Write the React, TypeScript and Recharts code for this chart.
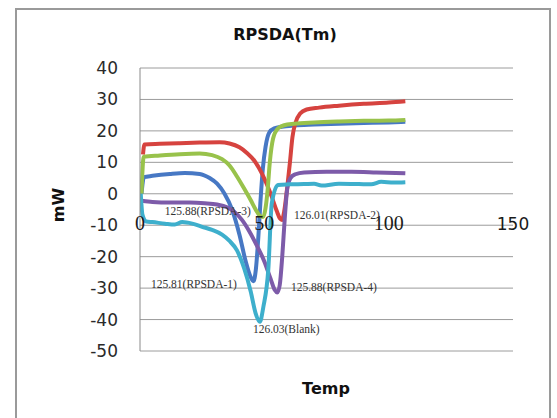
import React from 'react';
import { LineChart, Line, XAxis, YAxis, CartesianGrid, ReferenceDot } from 'recharts';

// ---- data ----
const rpsda1Temp = [0.6, 1.6, 5, 12, 18, 24, 28, 31, 34, 37, 40, 42.5, 44.5, 45.6, 46.6, 47.6, 48.4, 49.4, 50.5, 52, 54, 57, 62, 70, 80, 90, 100, 106.7];
const rpsda1MW = [0, 5.3, 5.7, 6.3, 6.6, 6.3, 5, 3.2, 0, -5, -13, -21.5, -26.5, -27.8, -24, -13.6, -3, 8, 15, 19.5, 20.8, 21.3, 21.7, 22, 22.3, 22.5, 22.7, 22.9];

const rpsda2Temp = [1.2, 1.8, 8, 16, 24, 32, 36, 40, 43, 46, 49, 51, 53, 55, 56.3, 57.1, 58, 59.2, 60.3, 61.3, 62.5, 64.4, 67, 72, 80, 90, 100, 106.7];
const rpsda2MW = [12.5, 15.7, 15.9, 16.1, 16.3, 16.4, 16, 14.8, 13, 10.5, 6.5, 3, -1, -5.5, -7.9, -8.3, -5.5, 2, 10, 18, 22.5, 25.5, 26.8, 27.4, 28, 28.6, 29, 29.4];

const rpsda3Temp = [0.6, 1.5, 8, 16, 24, 29, 33, 36, 39, 42, 44.5, 46.5, 48.2, 49.5, 50.5, 51.3, 52.2, 53.5, 55.5, 58, 62, 70, 80, 90, 100, 106.7];
const rpsda3MW = [0, 11.8, 12.2, 12.6, 12.8, 12.3, 11, 9, 5.5, 1.5, -2, -5, -7, -7.4, -4.5, 1, 10, 17.5, 20.8, 21.8, 22.3, 22.7, 23, 23.2, 23.3, 23.5];

const rpsda4Temp = [0.8, 5, 12, 20, 26, 31, 35, 38, 41, 44, 47, 50, 52.5, 54.2, 55.2, 56.2, 57.2, 58.2, 59.2, 60.5, 62.5, 66, 75, 85, 95, 106.7];
const rpsda4MW = [-2.2, -2.6, -2.8, -2.8, -3, -3.4, -4.3, -5.8, -8.3, -12, -16.5, -21.5, -27, -30.6, -31.4, -29, -20, -8, 1.5, 5, 6.2, 6.8, 7, 7, 6.8, 6.5];

const blankTemp = [0.3, 1, 2.5, 5, 10, 14, 17, 21, 25, 29, 33, 36, 39, 42, 44.5, 46.5, 48.2, 49.6, 51.6, 53, 55.5, 60, 66, 70, 73, 80, 88, 93, 97, 102, 106.7];
const blankMW = [0, -6.7, -8.8, -9, -9.5, -9.8, -9, -9.5, -10.5, -11.5, -13, -15, -18, -24, -31, -38, -40.7, -36, -24, -3, 2.8, 3, 3.1, 3.2, 2.6, 3.2, 3.1, 3.0, 3.8, 3.6, 3.7];

const xTicks = [0, 50, 100, 150];
const yTicks = [-50, -40, -30, -20, -10, 0, 10, 20, 30, 40];

const peakLabels = ['125.88(RPSDA-3)', '126.01(RPSDA-2)', '125.81(RPSDA-1)', '125.88(RPSDA-4)', '126.03(Blank)'];
const peakLabelTemp = [10.0, 61.9, 4.4, 60.7, 45.4];
const peakLabelMW = [-5.5, -6.7, -28.7, -29.6, -43.0];

// ---- layout / style ----
const W = 557;
const H = 418;
const TOP = 68;
const X_AXIS_H = 67;
const PLOT_H = H - TOP - X_AXIS_H;
const Y_MIN = -50;
const Y_MAX = 40;
const SANS = 'DejaVu Sans, sans-serif';
const SERIF = 'Liberation Serif, Times New Roman, serif';

const toPoints = (t: number[], v: number[]) => t.map((x, i) => ({ temp: x, mw: v[i] }));

const series = [
  { name: 'RPSDA-1', data: toPoints(rpsda1Temp, rpsda1MW), color: '#4778C4' },
  { name: 'RPSDA-2', data: toPoints(rpsda2Temp, rpsda2MW), color: '#D6433F' },
  { name: 'RPSDA-3', data: toPoints(rpsda3Temp, rpsda3MW), color: '#98C24B' },
  { name: 'RPSDA-4', data: toPoints(rpsda4Temp, rpsda4MW), color: '#7D5BA9' },
  { name: 'Blank', data: toPoints(blankTemp, blankMW), color: '#3EAFCC' },
];

const XTick = (props: any) => {
  const { x, y, payload } = props;
  const zeroY = y - (PLOT_H * (0 - Y_MIN)) / (Y_MAX - Y_MIN);
  const isSerif = payload.value !== 150;
  return (
    <text
      x={x}
      y={zeroY + 36.5}
      textAnchor="middle"
      fill="#1a1a1a"
      fontFamily={isSerif ? SERIF : SANS}
      fontSize={isSerif ? 20 : 17}
    >
      {payload.value}
    </text>
  );
};

export default function App() {
  return (
    <div style={{ position: 'fixed', left: 0, top: 0, width: W, height: H, overflow: 'hidden', background: '#fff' }}>
      <div
        style={{
          position: 'absolute',
          left: 15,
          top: 8,
          width: 536,
          height: 430,
          border: '2px solid #9a9a9a',
          boxSizing: 'border-box',
        }}
      />
      <div
        style={{
          position: 'absolute',
          left: 185,
          top: 25,
          width: 200,
          lineHeight: '20px',
          textAlign: 'center',
          fontFamily: SANS,
          fontWeight: 'bold',
          fontSize: 16,
          color: '#111',
        }}
      >
        RPSDA(Tm)
      </div>
      <div style={{ position: 'absolute', left: 0, top: 0 }}>
        <LineChart width={W} height={H} margin={{ top: TOP, right: 44, bottom: 0, left: 0 }}>
          <CartesianGrid vertical={false} stroke="#9c9c9c" />
          <XAxis
            dataKey="temp"
            type="number"
            domain={[0, 150]}
            ticks={xTicks}
            height={X_AXIS_H}
            axisLine={false}
            tickLine={false}
            tickSize={0}
            tickMargin={0}
            tick={<XTick />}
            interval={0}
            allowDataOverflow
          />
          <YAxis
            type="number"
            domain={[Y_MIN, Y_MAX]}
            ticks={yTicks}
            width={140}
            axisLine={{ stroke: '#8a8a8a' }}
            tickLine={false}
            tickSize={0}
            tickMargin={22}
            interval={0}
            tick={{ fill: '#2a2a2a', fontSize: 17, fontFamily: SANS }}
          />
          {series.map((s) => (
            <Line
              key={s.name}
              data={s.data}
              dataKey="mw"
              name={s.name}
              type="monotone"
              stroke={s.color}
              strokeWidth={4}
              dot={false}
              activeDot={false}
              isAnimationActive={false}
            />
          ))}
          {peakLabels.map((lbl, i) => (
            <ReferenceDot
              key={lbl}
              x={peakLabelTemp[i]}
              y={peakLabelMW[i]}
              r={0}
              fill="none"
              stroke="none"
              ifOverflow="visible"
              label={{
                value: lbl,
                position: 'right',
                offset: 0,
                fill: '#333',
                fontSize: 11.5,
                fontFamily: SERIF,
              }}
            />
          ))}
        </LineChart>
      </div>
      <div
        style={{
          position: 'absolute',
          left: 29,
          top: 195,
          width: 60,
          height: 20,
          lineHeight: '20px',
          textAlign: 'center',
          fontFamily: SANS,
          fontWeight: 'bold',
          fontSize: 16,
          color: '#111',
          transform: 'rotate(-90deg)',
        }}
      >
        mW
      </div>
      <div
        style={{
          position: 'absolute',
          left: 276,
          top: 379,
          width: 100,
          lineHeight: '20px',
          textAlign: 'center',
          fontFamily: SANS,
          fontWeight: 'bold',
          fontSize: 16,
          color: '#111',
        }}
      >
        Temp
      </div>
    </div>
  );
}
